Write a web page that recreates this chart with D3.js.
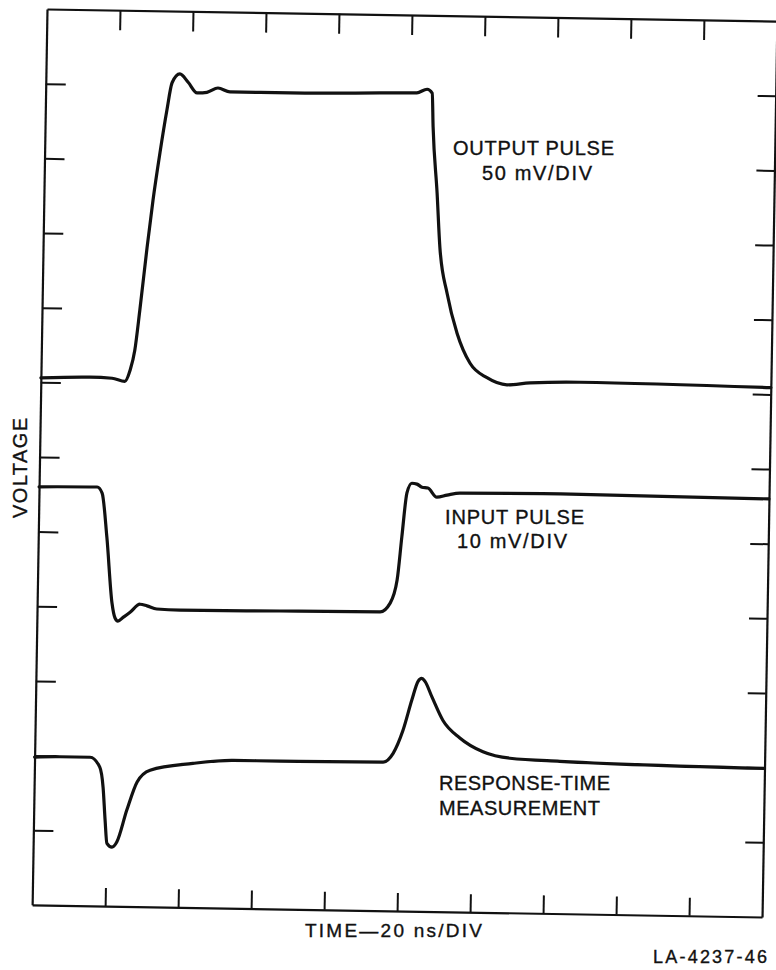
<!DOCTYPE html>
<html>
<head>
<meta charset="utf-8">
<script src="https://cdn.jsdelivr.net/npm/d3@7"></script>
<style>
  html, body { margin: 0; padding: 0; background: #fff; }
  svg { display: block; }
  text { font-family: "Liberation Sans", Arial, sans-serif; fill: #111; stroke: #111; stroke-width: 0.35px; }
</style>
</head>
<body>
<script>
// Oscilloscope record: time in ns (20 ns per division, 10 divisions),
// vertical position in graticule divisions (0 = bottom, 12 = top).
const timeTicks = [20, 40, 60, 80, 100, 120, 140, 160, 180];
const divisionTicks = [1, 2, 3, 4, 5, 6, 7, 8, 9, 10, 11];

// Output pulse, 50 mV/DIV
const outputPulse = [
  [0, 7.06], [13.4, 7.08], [19.5, 7.07], [23.0, 7.03], [24.4, 7.18], [25.6, 7.45],
  [26.8, 7.99], [28.5, 8.83], [29.9, 9.46], [31.6, 10.10], [33.3, 10.67], [34.6, 11.04],
  [36.7, 11.16], [39.0, 11.05], [41.5, 10.91], [44.2, 10.92], [47.2, 10.98], [50.5, 10.93],
  [67.0, 10.93], [91.6, 10.95], [101.7, 10.96], [104.5, 11.01], [105.9, 10.96],
  [106.3, 10.51], [107.7, 9.62], [108.7, 8.90], [110.9, 8.28], [113.8, 7.75],
  [117.5, 7.35], [122.2, 7.16], [127.7, 7.07], [134.0, 7.10], [147.7, 7.12], [200, 7.09]
];

// Input pulse, 10 mV/DIV
const inputPulse = [
  [0, 5.60], [15.9, 5.61], [17.3, 5.53], [18.8, 4.94], [20.5, 4.06], [21.4, 3.86],
  [22.2, 3.82], [23.6, 3.87], [25.5, 3.94], [28.2, 4.05], [30.1, 4.03], [32.8, 3.99],
  [39.2, 3.98], [66.5, 3.99], [94.0, 4.00], [96.7, 4.12], [98.5, 4.43], [99.6, 5.01],
  [100.8, 5.60], [102.1, 5.73], [103.5, 5.72], [104.9, 5.68], [106.5, 5.67],
  [109.0, 5.55], [111.8, 5.58], [115.3, 5.61], [142.7, 5.62], [200, 5.60]
];

// Response-time measurement
const responseTime = [
  [0, 1.98], [6.9, 1.99], [15.2, 1.99], [17.9, 1.86], [18.9, 1.59], [19.6, 1.15],
  [20.2, 0.84], [21.6, 0.79], [22.9, 0.86], [25.5, 1.29], [28.2, 1.67], [31.7, 1.83],
  [43.4, 1.93], [54.4, 1.98], [67.2, 1.98], [95.5, 1.99], [98.2, 2.11], [100.8, 2.42],
  [103.1, 2.83], [104.7, 3.08], [105.7, 3.12], [106.6, 3.08], [108.6, 2.87],
  [111.7, 2.56], [116.4, 2.33], [122.8, 2.15], [130.2, 2.07], [143.9, 2.04], [200, 1.99]
];

const traceLabels = [
  { text: "OUTPUT PULSE", x: 453, y: 155, len: 161 },
  { text: "50 mV/DIV", x: 482, y: 180, len: 110 },
  { text: "INPUT PULSE", x: 445, y: 524, len: 139 },
  { text: "10 mV/DIV", x: 457, y: 548, len: 110 },
  { text: "RESPONSE-TIME", x: 439, y: 790, len: 171 },
  { text: "MEASUREMENT", x: 439, y: 815, len: 161 }
];
const xAxisTitle = "TIME\u201420 ns/DIV";
const yAxisTitle = "VOLTAGE";
const figureId = "LA-4237-46";

const W = 730, H = 896;
const svg = d3.select("body").append("svg")
  .attr("width", 776).attr("height", 970);

// Graticule and traces sit on a slightly tilted sheet
const g = svg.append("g").attr("transform", "translate(47,9) rotate(0.95)");

const x = d3.scaleLinear().domain([0, 200]).range([0, W]);
const y = d3.scaleLinear().domain([0, 12]).range([H, 0]);

function styleAxis(sel) {
  sel.selectAll("text").remove();
  sel.select(".domain").attr("stroke", "#111").attr("stroke-width", 2.2);
  sel.selectAll(".tick line").attr("stroke", "#111").attr("stroke-width", 2);
}

// Frame edges with inward-pointing division marks
g.append("g")
  .call(d3.axisBottom(x).tickValues(timeTicks).tickSizeInner(20).tickSizeOuter(0).tickFormat(""))
  .call(styleAxis);
g.append("g").attr("transform", `translate(0,${H})`)
  .call(d3.axisTop(x).tickValues(timeTicks).tickSizeInner(18).tickSizeOuter(0).tickFormat(""))
  .call(styleAxis);
g.append("g")
  .call(d3.axisRight(y).tickValues(divisionTicks).tickSizeInner(20).tickSizeOuter(0).tickFormat(""))
  .call(styleAxis);
g.append("g").attr("transform", `translate(${W},0)`)
  .call(d3.axisLeft(y).tickValues(divisionTicks).tickSizeInner(18).tickSizeOuter(0).tickFormat(""))
  .call(styleAxis);

const line = d3.line()
  .x(d => x(d[0]))
  .y(d => y(d[1]))
  .curve(d3.curveMonotoneX);

[outputPulse, inputPulse, responseTime].forEach(trace => {
  g.append("path")
    .datum(trace)
    .attr("d", line)
    .attr("fill", "none")
    .attr("stroke", "#111")
    .attr("stroke-width", 3.2)
    .attr("stroke-linejoin", "round")
    .attr("stroke-linecap", "round");
});

// Trace captions
svg.selectAll("text.trace-label")
  .data(traceLabels)
  .join("text")
  .attr("class", "trace-label")
  .attr("x", d => d.x)
  .attr("y", d => d.y)
  .attr("textLength", d => d.len)
  .attr("lengthAdjust", "spacing")
  .style("font-size", "20px")
  .text(d => d.text);

svg.append("text")
  .attr("x", 305).attr("y", 937)
  .attr("textLength", 177).attr("lengthAdjust", "spacing")
  .style("font-size", "19px")
  .text(xAxisTitle);

svg.append("text")
  .attr("transform", "translate(27,468) rotate(-90)")
  .attr("text-anchor", "middle")
  .attr("textLength", 100).attr("lengthAdjust", "spacing")
  .style("font-size", "20px")
  .text(yAxisTitle);

svg.append("text")
  .attr("x", 653).attr("y", 963)
  .attr("textLength", 114).attr("lengthAdjust", "spacing")
  .style("font-size", "18px")
  .text(figureId);
</script>
</body>
</html>
